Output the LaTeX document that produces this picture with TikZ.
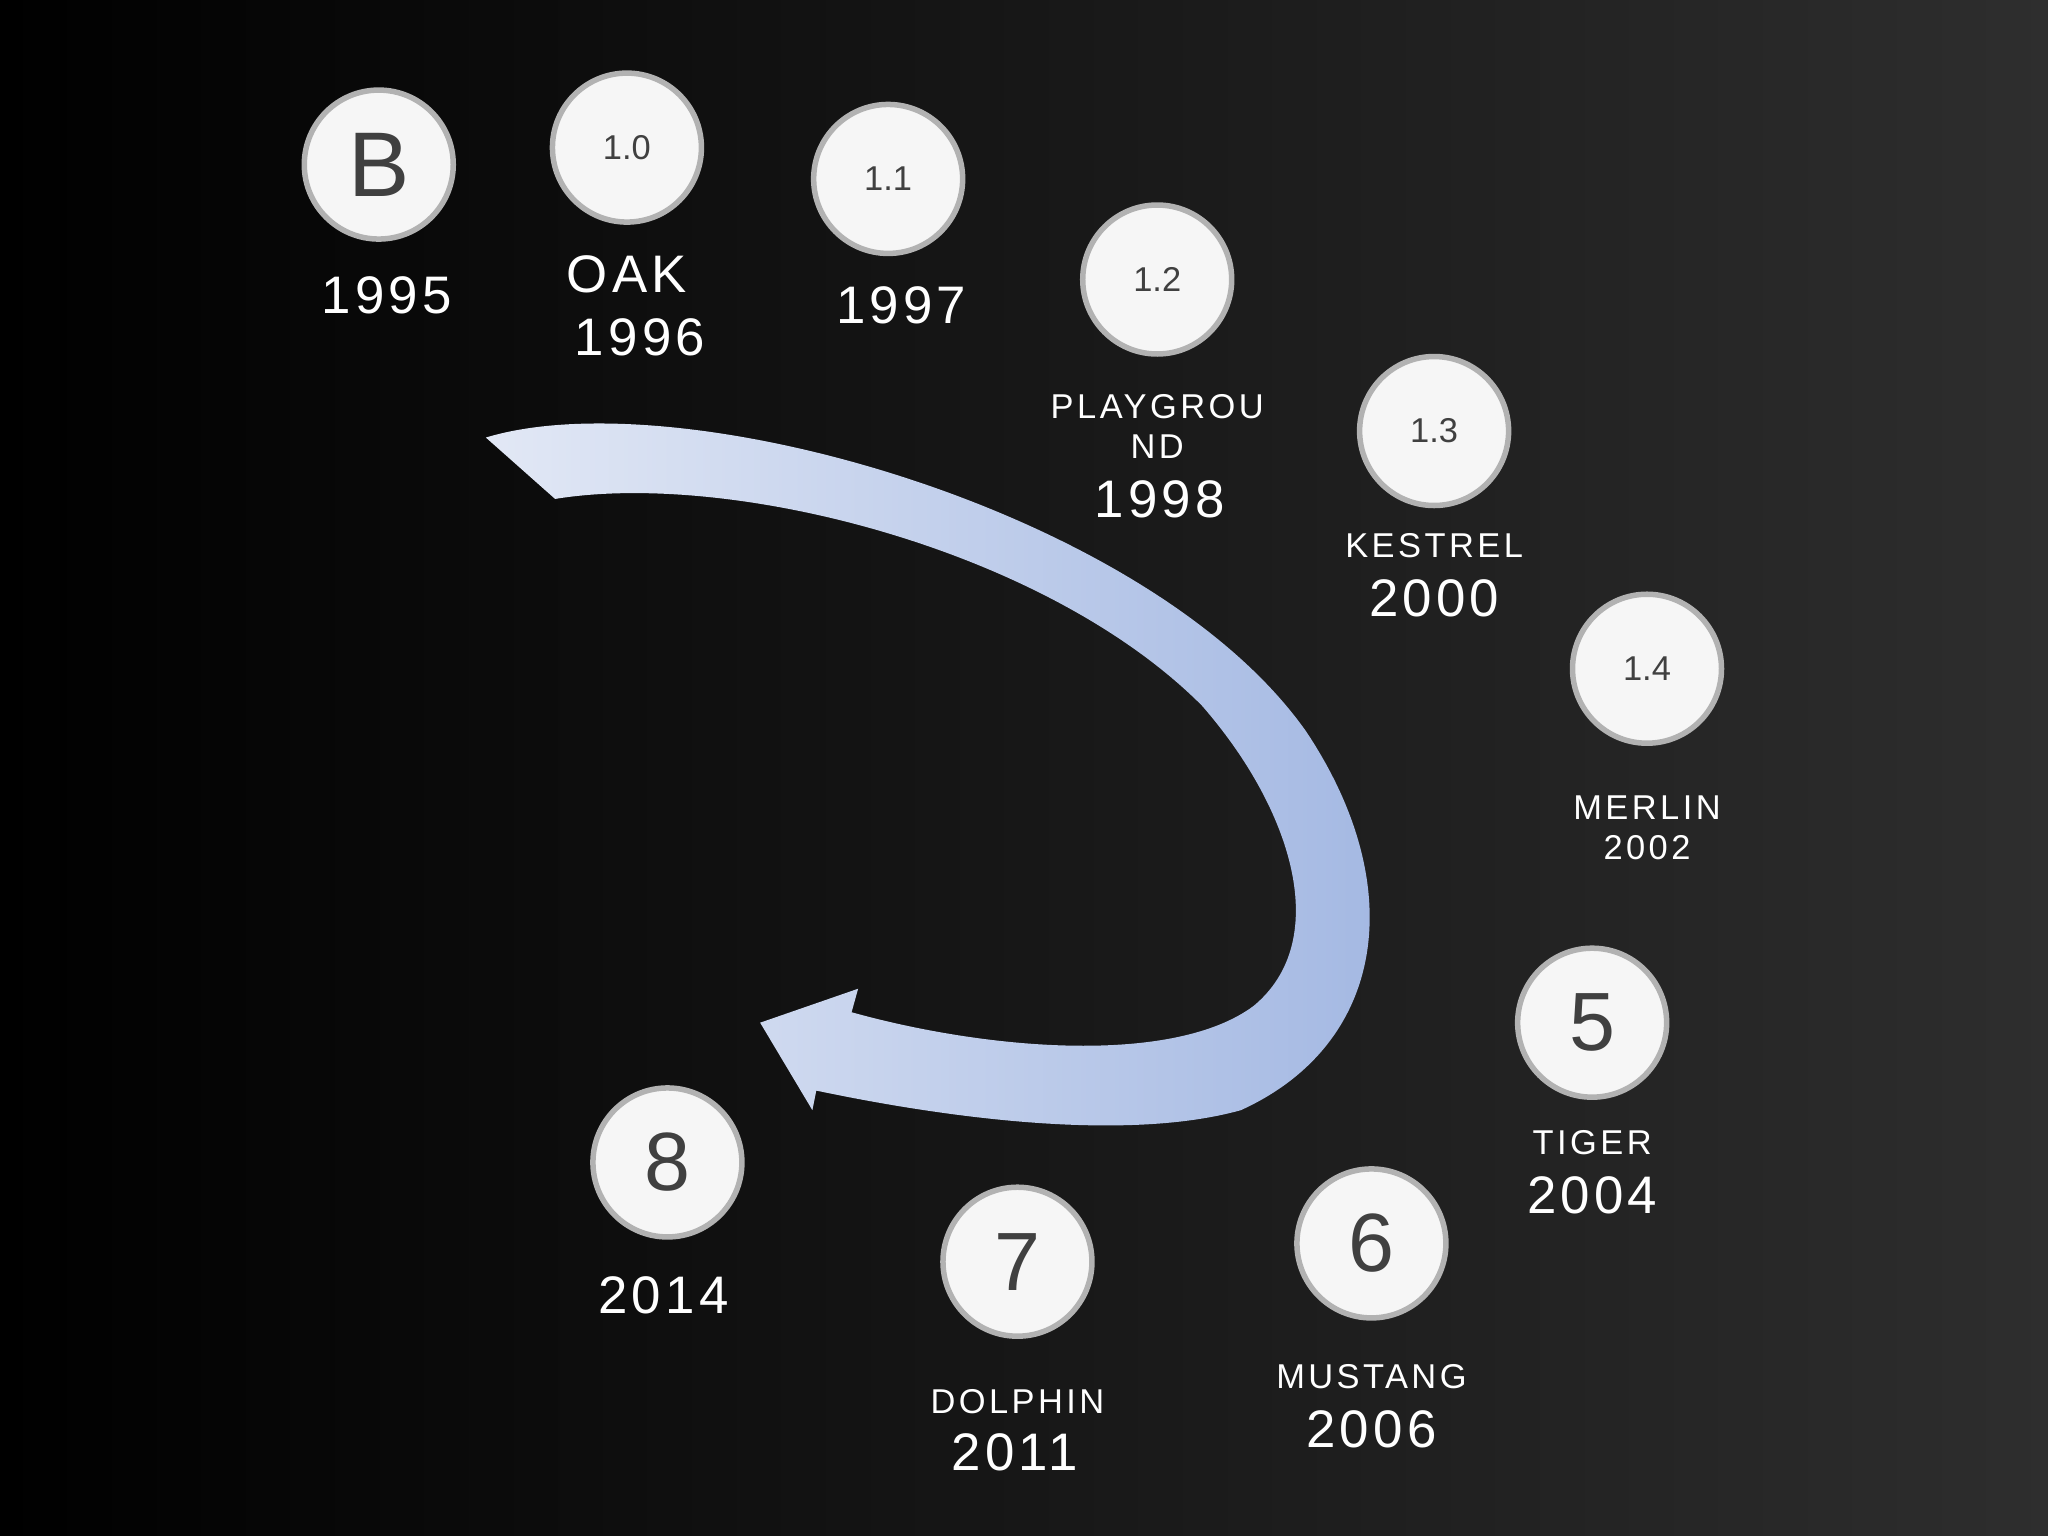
\documentclass[tikz,border=0pt]{standalone}
\usepackage{fontspec}
\setmainfont{Liberation Sans}
\definecolor{arL}{HTML}{E2E8F5}
\definecolor{arR}{HTML}{A2B7E2}
\begin{document}
\begin{tikzpicture}[x=0.01cm,y=-0.01cm,
  ver/.style={circle,minimum size=1.14cm,inner sep=0pt,fill=white!93!gray,draw=gray!60,line width=1.2pt,text=black!75},
  small/.style={font=\fontsize{7.5}{7.5}\selectfont},
  yr/.style={text=white,font=\fontsize{11.5}{11.5}\selectfont\addfontfeature{LetterSpace=8}},
  nm/.style={text=white,font=\fontsize{7.5}{7.5}\selectfont\addfontfeature{LetterSpace=10}}]
\shade[left color=black,middle color=black!97!white,right color=black!82!white] (0,0) rectangle (1568,1176);
\useasboundingbox (0,0) rectangle (1568,1176);
\shade[left color=arL,right color=arR] (372,335) .. controls (520,290) and (880,390) .. (1000,560) .. controls (1080,680) and (1060,800) .. (950,850) .. controls (860,875) and (720,855) .. (625,835) -- (622,850) -- (582,783) -- (657,757) -- (652,775) .. controls (760,805) and (900,815) .. (960,770) .. controls (1020,720) and (990,620) .. (920,540) .. controls (800,420) and (560,360) .. (425,382) -- cycle;
\node[ver,font=\fontsize{20}{20}\selectfont] (b) at (290,126) {B};
\node[ver,small] (v10) at (480,113) {1.0};
\node[ver,small] (v11) at (680,137) {1.1};
\node[ver,small] (v12) at (886,214) {1.2};
\node[ver,small] (v13) at (1098,330) {1.3};
\node[ver,small] (v14) at (1261,512) {1.4};
\node[ver,font=\fontsize{18}{18}\selectfont] (v5) at (1219,783) {5};
\node[ver,font=\fontsize{18}{18}\selectfont] (v6) at (1050,952) {6};
\node[ver,font=\fontsize{18}{18}\selectfont] (v7) at (779,966) {7};
\node[ver,font=\fontsize{18}{18}\selectfont] (v8) at (511,890) {8};
\node[yr] (y95) at (296,226) {1995};
\node[yr] (oak) at (480,210) {OAK};
\node[yr] (y96) at (490,258) {1996};
\node[yr] (y97) at (690,234) {1997};
\node[nm] (pg1) at (886,311) {PLAYGROU};
\node[nm] (pg2) at (886,342) {ND};
\node[yr] (y98) at (888,382) {1998};
\node[nm] (kes) at (1098,418) {KESTREL};
\node[yr] (y00) at (1098,458) {2000};
\node[nm] (mer) at (1261,618) {MERLIN};
\node[nm] (y02) at (1261,649) {2002};
\node[nm] (tig) at (1219,875) {TIGER};
\node[yr] (y04) at (1219,915) {2004};
\node[nm] (mus) at (1050,1054) {MUSTANG};
\node[yr] (y06) at (1050,1094) {2006};
\node[nm] (dol) at (779,1073) {DOLPHIN};
\node[yr] (y11) at (777,1112) {2011};
\node[yr] (y14) at (508,992) {2014};
\end{tikzpicture}
\end{document}
